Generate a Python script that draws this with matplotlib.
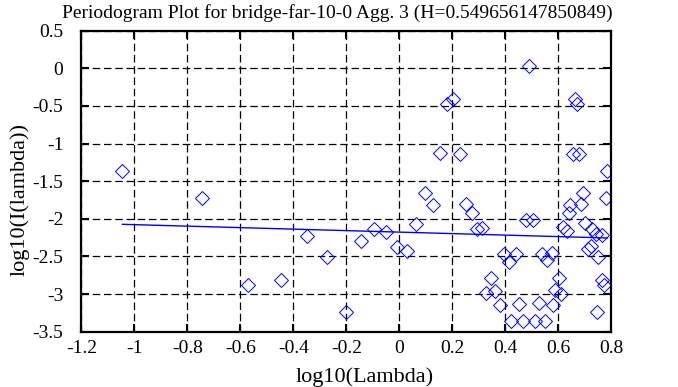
import matplotlib
matplotlib.use('Agg')
import matplotlib.pyplot as plt
import numpy as np
from matplotlib.ticker import FormatStrFormatter, MultipleLocator

plt.rcParams['font.family'] = ['Liberation Serif', 'DejaVu Serif']
plt.rcParams['axes.unicode_minus'] = False
plt.rcParams['font.size'] = 11

# periodogram points (log10 lambda, log10 I(lambda))
log_lambda = [-1.045, -0.745, -0.57, -0.446, -0.349, -0.273, -0.203, -0.145,
              -0.094, -0.05, -0.008, 0.029, 0.063, 0.096, 0.126, 0.154,
              0.179, 0.204, 0.229, 0.25, 0.273, 0.292, 0.311, 0.327,
              0.346, 0.362, 0.38, 0.395, 0.413, 0.421, 0.44, 0.452,
              0.467, 0.478, 0.489, 0.503, 0.513, 0.527, 0.537, 0.549,
              0.559, 0.576, 0.581, 0.588, 0.601, 0.611, 0.617, 0.632,
              0.639, 0.644, 0.654, 0.663, 0.672, 0.679, 0.684, 0.694,
              0.702, 0.713, 0.722, 0.728, 0.742, 0.745, 0.751, 0.764,
              0.764, 0.774, 0.779, 0.785]
log_power = [-1.366, -1.72, -2.88, -2.82, -2.23, -2.51, -3.24, -2.29,
             -2.14, -2.18, -2.37, -2.43, -2.07, -1.66, -1.82, -1.13,
             -0.47, -0.41, -1.14, -1.81, -1.92, -2.14, -2.12, -2.99,
             -2.79, -2.96, -3.15, -2.47, -2.57, -3.36, -2.47, -3.13,
             -3.36, -2.01, 0.036, -2.02, -3.36, -3.12, -2.47, -3.36,
             -2.55, -2.45, -3.15, -2.95, -2.79, -3.0, -2.11, -2.16,
             -1.92, -1.82, -1.14, -0.41, -0.47, -1.14, -1.81, -1.66,
             -2.06, -2.40, -2.36, -2.13, -2.20, -3.24, -2.51, -2.22,
             -2.81, -2.88, -1.72, -1.36]

H = 0.549656147850849
fit_slope = 1 - 2 * H
fit_intercept = -2.177

x = np.array(log_lambda)
y = np.array(log_power)

fig = plt.figure(figsize=(6.78, 3.87), dpi=100)
ax = fig.add_axes([0.12, 0.143, 0.7817, 0.7777])

ax.plot(x, y, linestyle='none', marker='D', markersize=7.5,
        markerfacecolor='none', markeredgecolor='#0000ff', markeredgewidth=0.7)

xl = np.array([x.min(), x.max()])
ax.plot(xl, fit_intercept + fit_slope * xl, color='#0000ff', linewidth=1)

ax.set_xlim(-1.2, 0.8)
ax.set_ylim(-3.5, 0.5)
ax.xaxis.set_major_locator(MultipleLocator(0.2))
ax.yaxis.set_major_locator(MultipleLocator(0.5))
ax.xaxis.set_major_formatter(FormatStrFormatter('%g'))
ax.yaxis.set_major_formatter(FormatStrFormatter('%g'))
ax.tick_params(direction='in', length=6, width=1.5, top=True, right=True,
               labelsize=14, colors='black')
ax.tick_params(axis='y', pad=13)
ax.tick_params(axis='x', pad=6)
ax.grid(True, color='black', linestyle=(0, (6, 3)), linewidth=0.9)
for s in ax.spines.values():
    s.set_linewidth(1.6)

ax.set_title('Periodogram Plot for bridge-far-10-0 Agg. 3 (H=0.549656147850849)',
             fontsize=14, pad=9, x=0.482)
ax.set_xlabel('log10(Lambda)', fontsize=16)
ax.set_ylabel('log10(I(lambda))', fontsize=16)
ax.xaxis.set_label_coords(0.535, -0.118)
ax.yaxis.set_label_coords(-0.097, 0.44)

fig.savefig('out.png', dpi=100)
